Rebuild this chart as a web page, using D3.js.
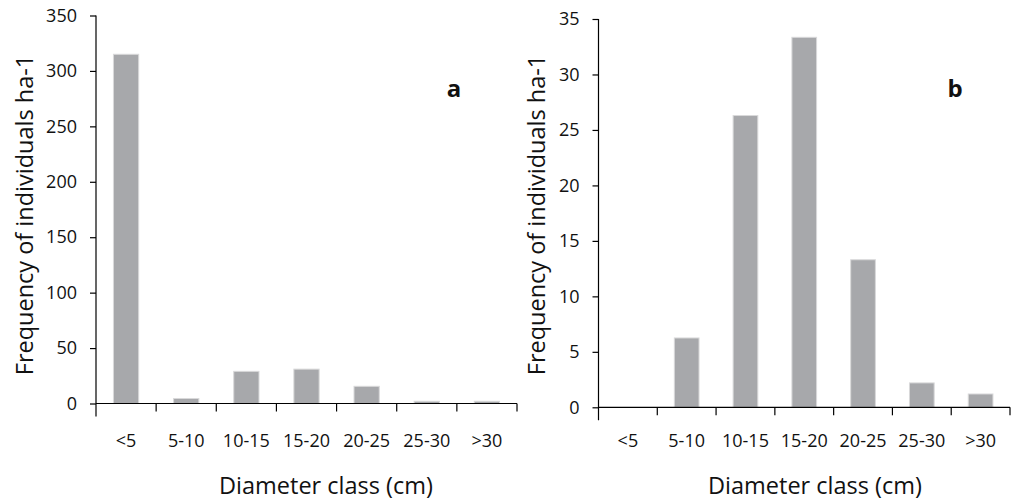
<!DOCTYPE html>
<html>
<head>
<meta charset="utf-8">
<script src="https://cdn.jsdelivr.net/npm/d3@7"></script>
<style>
  html, body { margin: 0; padding: 0; background: #fff; }
  svg text { font-family: "Open Sans", "Noto Sans", sans-serif; fill: #111; }
</style>
</head>
<body>
<svg id="chart" width="1013" height="500"></svg>
<script>
const categories = ["<5", "5-10", "10-15", "15-20", "20-25", "25-30", ">30"];
const valuesA = [315, 4.5, 29, 31, 15.5, 2, 2];
const valuesB = [0, 6.25, 26.3, 33.35, 13.3, 2.2, 1.2];
const ticksA = [0, 50, 100, 150, 200, 250, 300, 350];
const ticksB = [0, 5, 10, 15, 20, 25, 30, 35];
const yTitle = "Frequency of individuals ha-1";
const xTitle = "Diameter class (cm)";

const svg = d3.select("#chart");

function panel(opts) {
  const g = svg.append("g");
  const x = d3.scaleBand().domain(categories).range([opts.x0, opts.x1])
    .paddingInner(0.58).paddingOuter(0.29);
  const y = d3.scaleLinear().domain([0, opts.max]).range([opts.y0, opts.y1]);

  // bars
  g.selectAll("rect.bar").data(opts.values).join("rect")
    .attr("class", "bar")
    .attr("x", (d, i) => x(categories[i]))
    .attr("width", x.bandwidth())
    .attr("y", d => y(d))
    .attr("height", d => y(0) - y(d))
    .attr("fill", "#a7a8ab")
    .attr("stroke", d => d > 0 ? "#d9d9da" : "none")
    .attr("stroke-width", 1);

  // y axis
  const yAxis = d3.axisLeft(y).tickValues(opts.ticks).tickSize(6).tickPadding(13)
    .tickFormat(d3.format("d"));
  const ya = g.append("g").attr("transform", `translate(${opts.x0},0)`).call(yAxis);
  ya.select(".domain").remove();
  ya.selectAll(".tick line").attr("stroke", "#000").attr("stroke-width", 1.2);
  ya.selectAll(".tick text").style("font-size", "18px").attr("fill", "#111");
  g.append("line")
    .attr("x1", opts.x0).attr("x2", opts.x0)
    .attr("y1", y(opts.max)).attr("y2", y(0) + 13)
    .attr("stroke", "#000").attr("stroke-width", 1.2);

  // x axis line and boundary ticks
  g.append("line")
    .attr("x1", opts.x0).attr("x2", opts.x1)
    .attr("y1", y(0)).attr("y2", y(0))
    .attr("stroke", "#000").attr("stroke-width", 1.2);
  const step = x.step();
  const bounds = d3.range(1, categories.length + 1).map(i => opts.x0 + i * step);
  g.selectAll("line.xt").data(bounds).join("line")
    .attr("class", "xt")
    .attr("x1", d => d).attr("x2", d => d)
    .attr("y1", y(0)).attr("y2", y(0) + 8)
    .attr("stroke", "#000").attr("stroke-width", 1.2);

  // x tick labels
  g.selectAll("text.xl").data(categories).join("text")
    .attr("class", "xl")
    .attr("x", d => x(d) + x.bandwidth() / 2)
    .attr("y", opts.xLabelY)
    .attr("text-anchor", "middle")
    .style("font-size", "18px")
    .text(d => d);

  // x title
  g.append("text")
    .attr("x", opts.xTitleX).attr("y", opts.xTitleY)
    .attr("text-anchor", "middle")
    .style("font-size", "23.5px")
    .text(xTitle);

  // y title
  g.append("text")
    .attr("transform", `translate(${opts.yTitleX},${opts.yTitleY}) rotate(-90)`)
    .attr("text-anchor", "middle")
    .style("font-size", "23.5px")
    .text(yTitle);

  // panel letter
  g.append("text")
    .attr("x", opts.letterX).attr("y", opts.letterY)
    .attr("text-anchor", "middle")
    .style("font-size", "24px").style("font-weight", "bold")
    .text(opts.letter);
}

panel({ values: valuesA, ticks: ticksA, max: 350,
  x0: 96, x1: 517, y0: 403.5, y1: 15.5,
  xLabelY: 447, xTitleX: 326, xTitleY: 494,
  yTitleX: 33, yTitleY: 215, letter: "a", letterX: 454, letterY: 97 });

panel({ values: valuesB, ticks: ticksB, max: 35,
  x0: 598.5, x1: 1010, y0: 407.3, y1: 19,
  xLabelY: 447, xTitleX: 815, xTitleY: 494,
  yTitleX: 545, yTitleY: 215, letter: "b", letterX: 955, letterY: 97 });
</script>
</body>
</html>
